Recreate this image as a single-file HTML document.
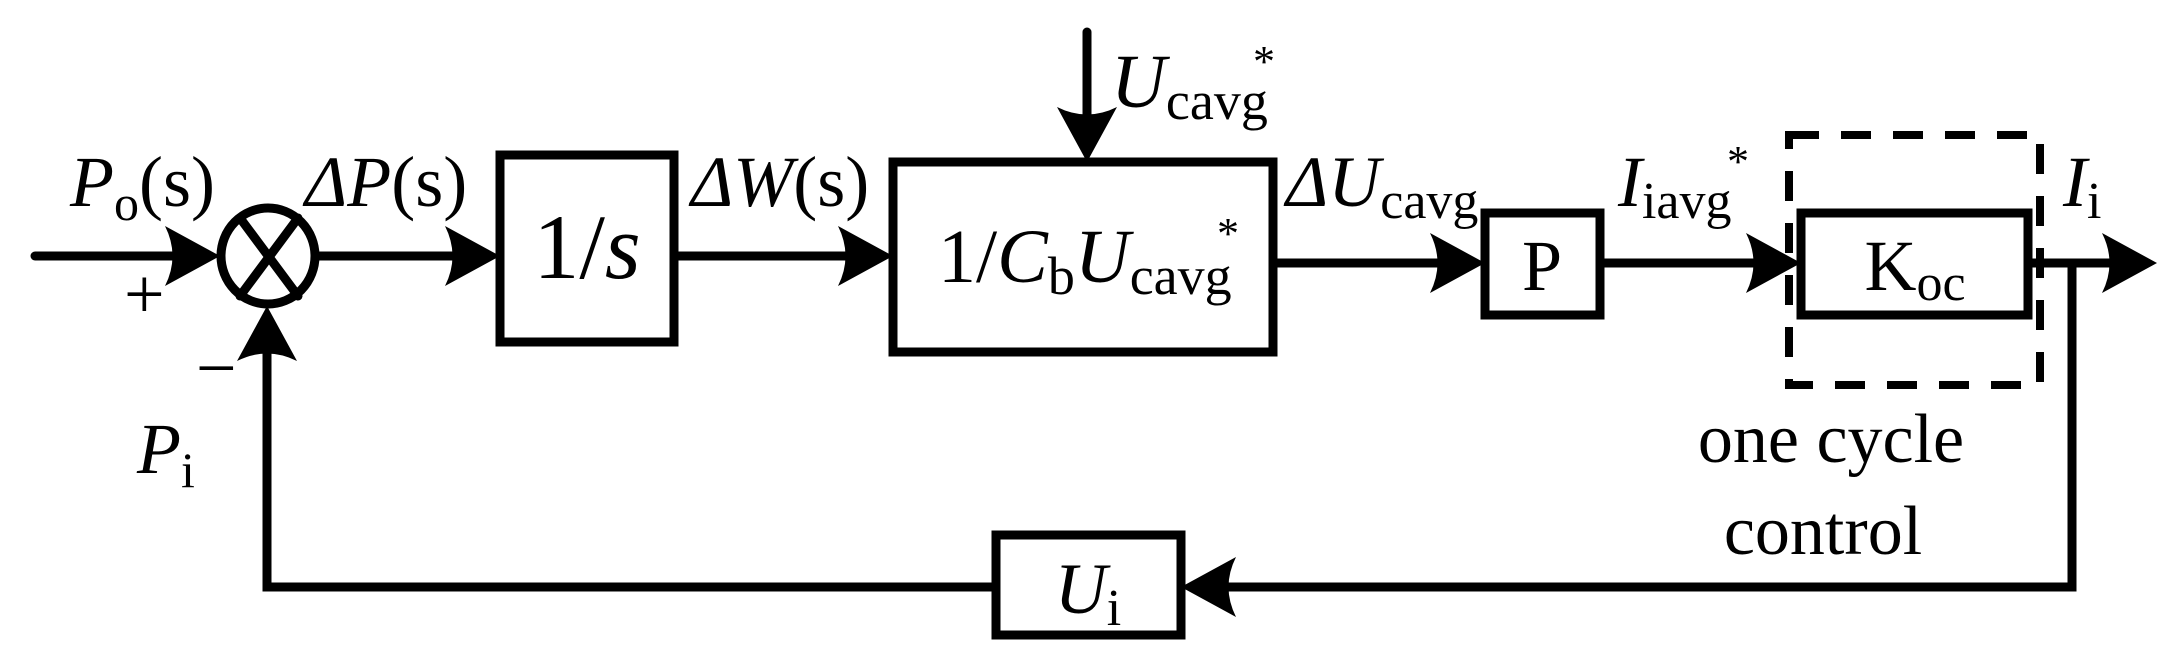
<!DOCTYPE html>
<html><head><style>
html,body{margin:0;padding:0;background:#fff;}
svg{display:block;}
text{font-family:"Liberation Serif",serif;fill:#000;}
</style></head><body>
<svg width="2175" height="653" viewBox="0 0 2175 653" xmlns="http://www.w3.org/2000/svg">
<defs>
<path id="ah" d="M0,0 L-55,-30 Q-40,0 -55,30 Z" fill="#000"/>
</defs>
<g stroke="#000" stroke-width="9" fill="none" stroke-linecap="round">
<!-- input -->
<line x1="35" y1="256" x2="200" y2="256"/>
<!-- summing junction -->
<ellipse cx="268" cy="256" rx="47" ry="48"/>
<line x1="240" y1="218" x2="298" y2="296"/>
<line x1="298" y1="218" x2="240" y2="296"/>
<line x1="317" y1="256" x2="470" y2="256"/>
<!-- 1/s box -->
<rect x="500" y="155" width="174" height="187"/>
<line x1="674" y1="256" x2="870" y2="256"/>
<!-- big box -->
<rect x="893" y="162" width="380" height="190"/>
<line x1="1087" y1="32" x2="1087" y2="130"/>
<line x1="1273" y1="263" x2="1460" y2="263"/>
<!-- P box -->
<rect x="1485" y="213" width="115" height="102"/>
<line x1="1600" y1="263" x2="1775" y2="263"/>
<!-- Koc box -->
<rect x="1801" y="213" width="227" height="102"/>
<rect x="1789" y="135" width="251" height="250" stroke-dasharray="30,22" stroke-width="8" stroke-linecap="butt"/>
<line x1="2028" y1="263" x2="2130" y2="263"/>
<!-- feedback -->
<polyline points="2072,263 2072,587 1200,587"/>
<rect x="996" y="535" width="185" height="100"/>
<polyline points="996,587 267,587 267,330"/>
</g>
<!-- arrowheads -->
<use href="#ah" transform="translate(220,256)"/>
<use href="#ah" transform="translate(500,256)"/>
<use href="#ah" transform="translate(893,256)"/>
<use href="#ah" transform="translate(1087,162) rotate(90)"/>
<use href="#ah" transform="translate(1485,263)"/>
<use href="#ah" transform="translate(1801,263)"/>
<use href="#ah" transform="translate(2157,263)"/>
<use href="#ah" transform="translate(1181,587) rotate(180)"/>
<use href="#ah" transform="translate(267,306) rotate(-90)"/>
<!-- labels -->
<text x="70" y="206" font-size="72"><tspan font-style="italic">P</tspan><tspan font-size="50" dy="14">o</tspan><tspan dy="-14">(s)</tspan></text>
<text x="124" y="318" font-size="72">+</text>
<text x="196" y="392" font-size="72">−</text>
<text x="137" y="473" font-size="72"><tspan font-style="italic">P</tspan><tspan font-size="50" dy="14">i</tspan></text>
<text x="305" y="206" font-size="72"><tspan font-style="italic">ΔP</tspan>(s)</text>
<text x="587" y="278" font-size="92" text-anchor="middle">1/<tspan font-style="italic">s</tspan></text>
<text x="691" y="206" font-size="72"><tspan font-style="italic">ΔW</tspan>(s)</text>
<text x="938" y="282" font-size="76">1/<tspan font-style="italic">C</tspan><tspan font-size="54" dy="12">b</tspan><tspan font-style="italic" dy="-12">U</tspan><tspan font-size="54" dy="12">cavg</tspan></text>
<text x="1217" y="248" font-size="44">*</text>
<text x="1111" y="107" font-size="76"><tspan font-style="italic">U</tspan><tspan font-size="54" dy="12">cavg</tspan></text>
<text x="1253" y="76" font-size="44">*</text>
<text x="1286" y="206" font-size="72"><tspan font-style="italic">ΔU</tspan><tspan font-size="52" dy="12">cavg</tspan></text>
<text x="1618" y="206" font-size="72"><tspan font-style="italic">I</tspan><tspan font-size="52" dy="12">iavg</tspan></text>
<text x="1727" y="176" font-size="44">*</text>
<text x="2063" y="206" font-size="72"><tspan font-style="italic">I</tspan><tspan font-size="52" dy="12">i</tspan></text>
<text x="1542" y="290" font-size="72" text-anchor="middle">P</text>
<text x="1915" y="290" font-size="72" text-anchor="middle">K<tspan font-size="52" dy="10">oc</tspan></text>
<text x="1831" y="462" font-size="70" text-anchor="middle">one cycle</text>
<text x="1823" y="554" font-size="70" text-anchor="middle">control</text>
<text x="1088" y="613" font-size="72" text-anchor="middle"><tspan font-style="italic">U</tspan><tspan font-size="52" dy="12">i</tspan></text>
</svg>
</body></html>
